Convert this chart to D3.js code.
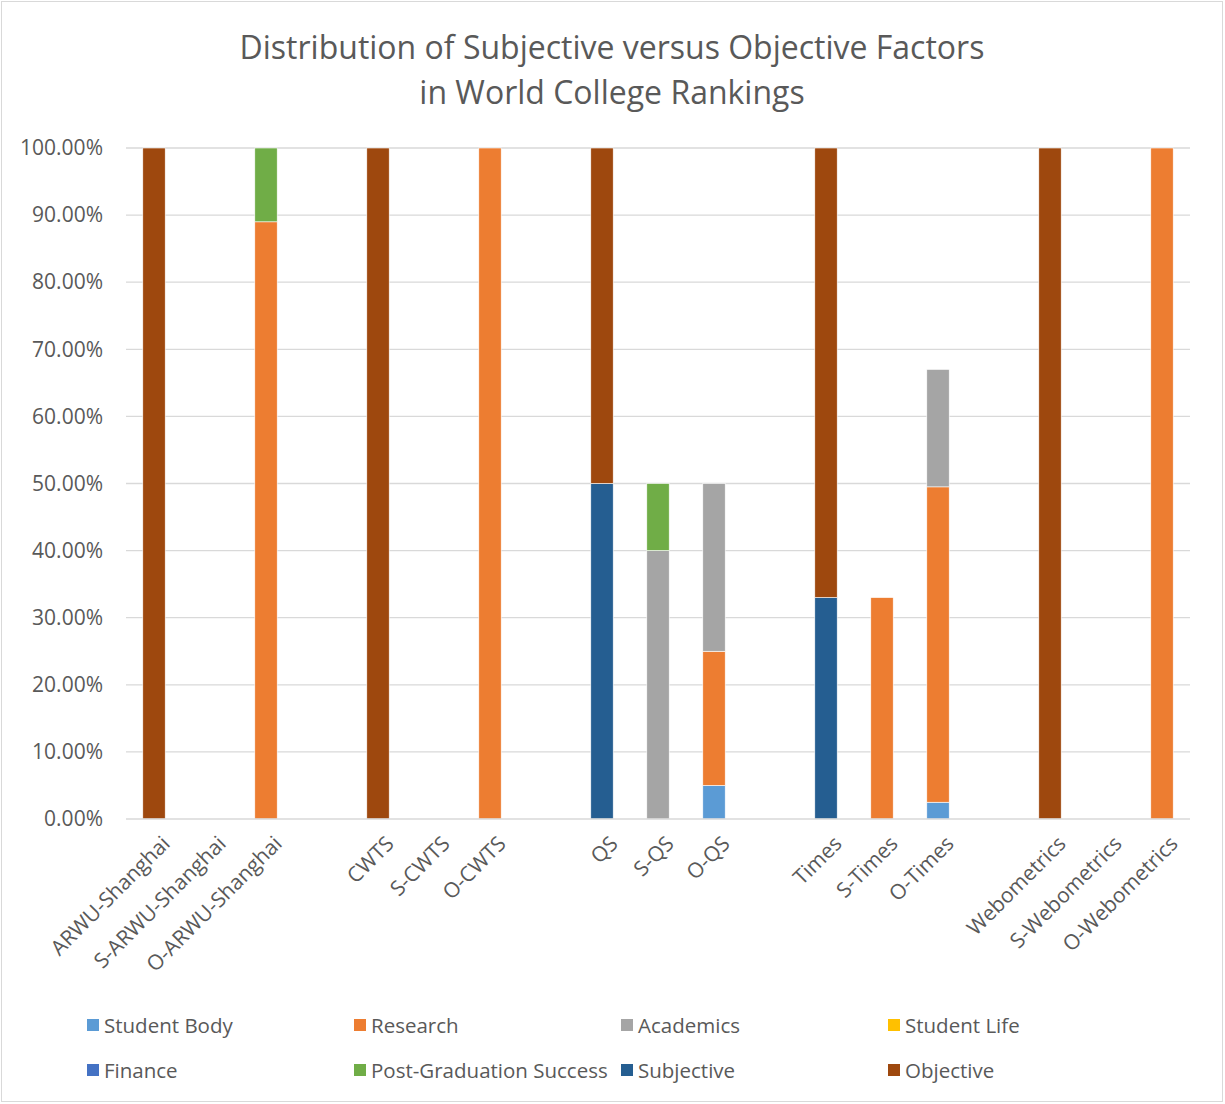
<!DOCTYPE html>
<html><head><meta charset="utf-8">
<script src="https://cdn.jsdelivr.net/npm/d3@7"></script>
<style>body{margin:0;background:#fff;} text{font-family:"Open Sans",sans-serif;}</style>
</head><body><svg id="c" width="1225" height="1104"></svg>
<script>
const categories = ["ARWU-Shanghai","S-ARWU-Shanghai","O-ARWU-Shanghai","","CWTS","S-CWTS","O-CWTS"," ","QS","S-QS","O-QS","  ","Times","S-Times","O-Times","   ","Webometrics","S-Webometrics","O-Webometrics"];
const seriesNames = ["Student Body","Research","Academics","Student Life","Finance","Post-Graduation Success","Subjective","Objective"];
const studentBody = [0,0,0,0,0,0,0,0,0,0,5,0,0,0,2.5,0,0,0,0];
const research    = [0,0,89,0,0,0,100,0,0,0,20,0,0,33,47,0,0,0,100];
const academics   = [0,0,0,0,0,0,0,0,0,40,25,0,0,0,17.5,0,0,0,0];
const studentLife = [0,0,0,0,0,0,0,0,0,0,0,0,0,0,0,0,0,0,0];
const finance     = [0,0,0,0,0,0,0,0,0,0,0,0,0,0,0,0,0,0,0];
const postGrad    = [0,0,11,0,0,0,0,0,0,10,0,0,0,0,0,0,0,0,0];
const subjective  = [0,0,0,0,0,0,0,0,50,0,0,0,33,0,0,0,0,0,0];
const objective   = [100,0,0,0,100,0,0,0,50,0,0,0,67,0,0,0,100,0,0];
const yTicks = [0,10,20,30,40,50,60,70,80,90,100];
const colors = ["#5B9BD5","#ED7D31","#A5A5A5","#FFC000","#4472C4","#70AD47","#255E91","#9E480E"];

const seriesVals = [studentBody,research,academics,studentLife,finance,postGrad,subjective,objective];
const rows = categories.map((c,i)=>{const r={cat:c}; seriesNames.forEach((s,j)=>r[s]=seriesVals[j][i]); return r;});
const stack = d3.stack().keys(seriesNames)(rows);

const svg = d3.select("#c");
svg.append("rect").attr("x",1.5).attr("y",1.5).attr("width",1221).attr("height",1100).attr("fill","#fff").attr("stroke","#d9d9d9");

const L=126,R=1190,T=148,B=819;
const x = d3.scaleBand().domain(categories).range([L,R]).paddingInner(0.6).paddingOuter(0.3);
const y = d3.scaleLinear().domain([0,100]).range([B,T]);

svg.append("g").selectAll("line").data(yTicks.filter(t=>t>0)).join("line")
  .attr("x1",L).attr("x2",R).attr("y1",d=>y(d)).attr("y2",d=>y(d)).attr("stroke","#d9d9d9").attr("stroke-width",1.3);

const yAxis = svg.append("g").attr("transform",`translate(${L},0)`)
  .call(d3.axisLeft(y).tickValues(yTicks).tickSize(0).tickPadding(23).tickFormat(d=>d.toFixed(2)+"%"));
yAxis.select(".domain").remove();
yAxis.selectAll("text").attr("font-size","21px").attr("fill","#595959").attr("font-family","Open Sans");

svg.append("g").selectAll("g").data(stack).join("g").attr("fill",(d,i)=>colors[i])
  .selectAll("rect").data(d=>d.filter(p=>p[1]-p[0]>0)).join("rect")
  .attr("x",d=>x(d.data.cat)).attr("width",x.bandwidth())
  .attr("y",d=>y(d[1])).attr("height",d=>y(d[0])-y(d[1]))
  .attr("stroke","#fff").attr("stroke-width",0.6);

svg.append("line").attr("x1",L).attr("x2",R).attr("y1",B).attr("y2",B).attr("stroke","#d9d9d9").attr("stroke-width",1.3);

const xAxis = svg.append("g").attr("transform",`translate(0,${B})`)
  .call(d3.axisBottom(x).tickSize(0).tickPadding(0));
xAxis.select(".domain").remove();
xAxis.selectAll("text").attr("font-size","21px").attr("fill","#595959").attr("font-family","Open Sans")
  .attr("text-anchor","end").attr("dy",0)
  .attr("transform",d=>`translate(${x.bandwidth()/2+6},26) rotate(-45)`);

const title = svg.append("text").attr("text-anchor","middle").attr("fill","#595959").attr("font-size","32px");
title.append("tspan").attr("x",612).attr("y",59).text("Distribution of Subjective versus Objective Factors");
title.append("tspan").attr("x",612).attr("y",104).text("in World College Rankings");

const legX=[87,354,621,888], legY=[1025,1070];
const lg = svg.append("g").selectAll("g").data(seriesNames).join("g")
  .attr("transform",(d,i)=>`translate(${legX[i%4]},${legY[Math.floor(i/4)]})`);
lg.append("rect").attr("x",0).attr("y",-6).attr("width",12).attr("height",12).attr("fill",(d,i)=>colors[i]);
lg.append("text").attr("x",17).attr("y",7.5).attr("font-size","20.5px").attr("fill","#595959").text(d=>d);
</script></body></html>
